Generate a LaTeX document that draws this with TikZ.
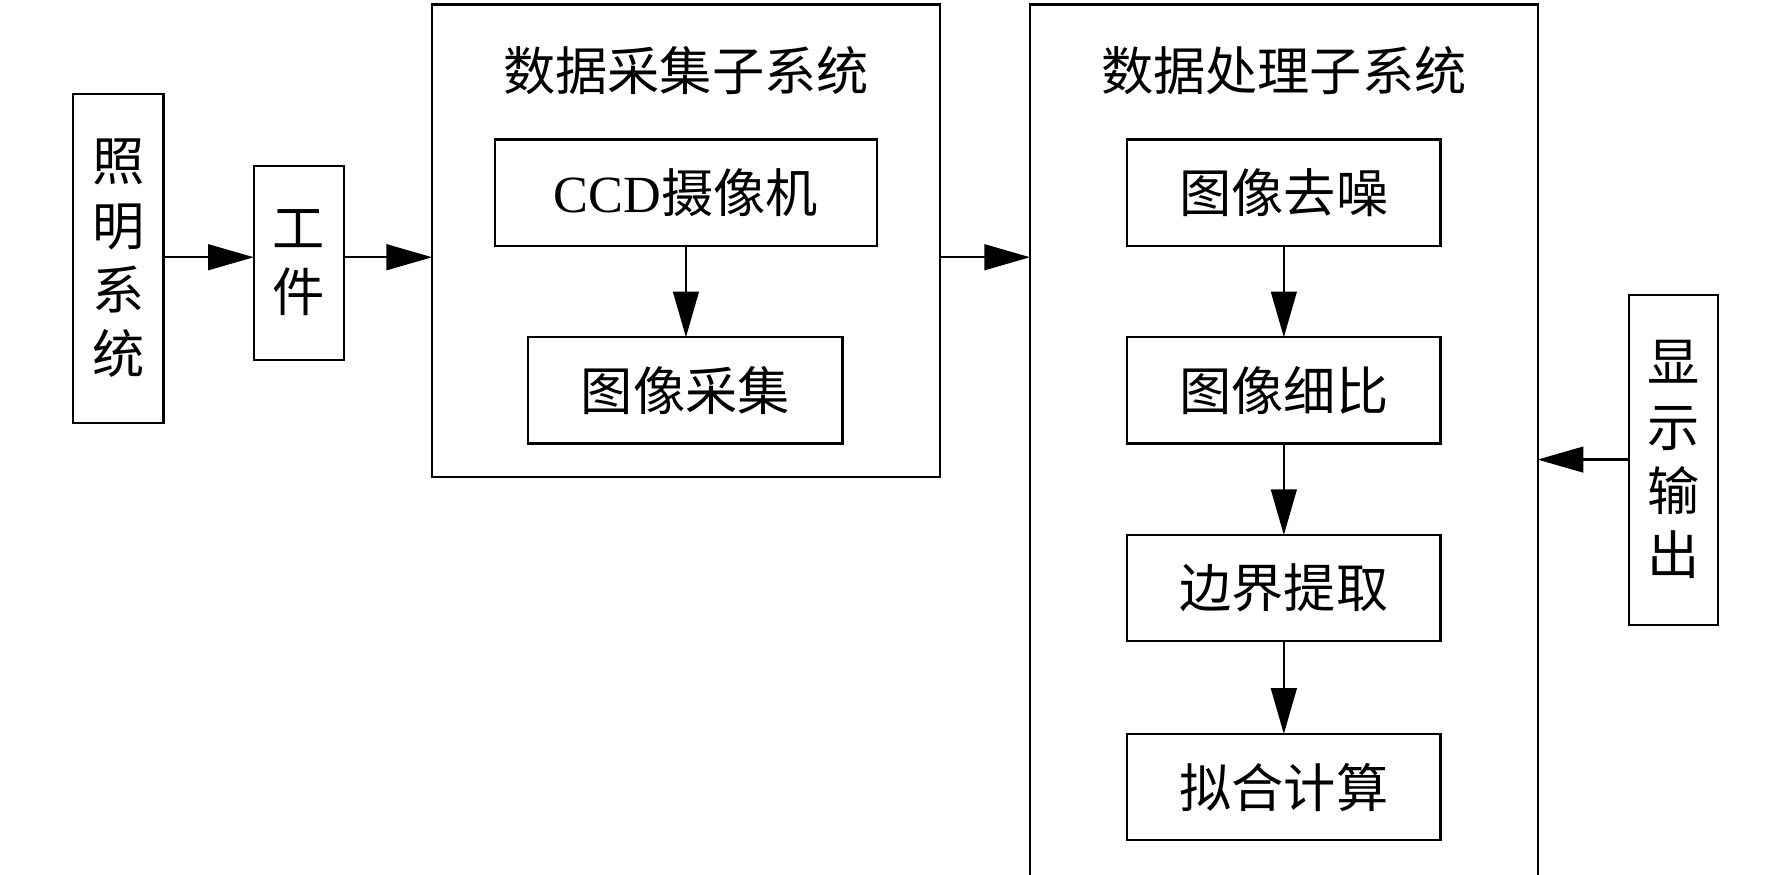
\documentclass[tikz,border=0pt]{standalone}
\usepackage{fontspec}
\setmainfont{Liberation Serif}
\newfontfamily\cjk{Noto Sans CJK SC}
\usetikzlibrary{arrows.meta}
\begin{document}
\begin{tikzpicture}[x=0.02cm,y=-0.02cm,
  bx/.style={draw,line width=1.1pt,inner sep=0pt},
  lbl/.style={font=\fontsize{26}{32}\selectfont\cjk,align=center},
  arr/.style={line width=1.1pt,-{Triangle[length=0.8cm,width=0.45cm]}}]
\useasboundingbox (0,0) rectangle (1550,765);
% boxes
\draw[bx] (64,82) rectangle (143,370); \node[lbl] (zm) at (103.5,226) {照\\明\\系\\统};
\coordinate (zmE) at (143,225);
\draw[bx] (222,145) rectangle (301,315); \node[lbl] (gj) at (261.5,230) {工\\件};
\coordinate (gjW) at (222,225); \coordinate (gjE) at (301,225);
\draw[bx] (378,4) rectangle (822,417); \node[lbl] (t1) at (600,62) {数据采集子系统};
\coordinate (o1W) at (378,225); \coordinate (o1E) at (822,225);
\draw[bx] (433,122) rectangle (767,215); \node[lbl] (ccd) at (600,168.5) {{\rmfamily CCD}摄像机};
\draw[bx] (462,295) rectangle (737,388); \node[lbl] (cj) at (599.5,341.5) {图像采集};
\draw[bx] (901,4) rectangle (1345,768); \node[lbl] (t2) at (1123,62) {数据处理子系统};
\coordinate (o2W) at (901,225); \coordinate (o2E) at (1345,402);
\draw[bx] (986,122) rectangle (1260,215); \node[lbl] (a) at (1123,168.5) {图像去噪};
\draw[bx] (986,295) rectangle (1260,388); \node[lbl] (b) at (1123,341.5) {图像细比};
\draw[bx] (986,468) rectangle (1260,561); \node[lbl] (c) at (1123,514.5) {边界提取};
\draw[bx] (986,642) rectangle (1260,735); \node[lbl] (d) at (1123,688.5) {拟合计算};
\draw[bx] (1425,258) rectangle (1503,547); \node[lbl] (xs) at (1464,402) {显\\示\\输\\出};
\coordinate (xsW) at (1425,402);
% arrows
\draw[arr] (zmE) -- (gjW);
\draw[arr] (gjE) -- (o1W);
\draw[arr] (o1E) -- (o2W);
\draw[arr] (xsW) -- (o2E);
\draw[arr] (600,215) -- (600,295);
\draw[arr] (1123,215) -- (1123,295);
\draw[arr] (1123,388) -- (1123,468);
\draw[arr] (1123,561) -- (1123,642);
\end{tikzpicture}
\end{document}
